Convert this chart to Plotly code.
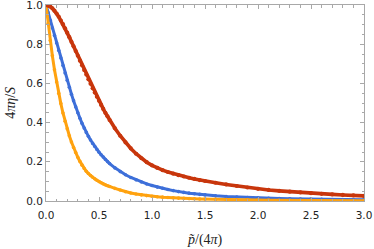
import plotly.graph_objects as go

# momentum grid p/(4pi)
p_vals = [
    0.00, 0.02, 0.04, 0.06, 0.08, 0.10, 0.12, 0.14, 0.16, 0.18,
    0.20, 0.22, 0.24, 0.26, 0.28, 0.30, 0.32, 0.34, 0.36, 0.38,
    0.40, 0.42, 0.44, 0.46, 0.48, 0.50, 0.52, 0.54, 0.56, 0.58,
    0.60, 0.65, 0.70, 0.75, 0.80, 0.85, 0.90, 0.95, 1.00, 1.05,
    1.10, 1.15, 1.20, 1.25, 1.30, 1.35, 1.40, 1.45, 1.50, 1.60,
    1.70, 1.80, 1.90, 2.00, 2.10, 2.20, 2.30, 2.40, 2.50, 2.60,
    2.70, 2.80, 2.90, 3.00,
]

blue_vals = [
    1.000, 0.961, 0.922, 0.883, 0.845, 0.806, 0.768, 0.729, 0.691, 0.653,
    0.616, 0.580, 0.545, 0.512, 0.480, 0.450, 0.422, 0.396, 0.372, 0.350,
    0.330, 0.311, 0.294, 0.278, 0.263, 0.249, 0.236, 0.224, 0.212, 0.201,
    0.191, 0.169, 0.150, 0.134, 0.120, 0.108, 0.097, 0.087, 0.079, 0.071,
    0.065, 0.059, 0.053, 0.048, 0.044, 0.040, 0.037, 0.034, 0.031, 0.0264,
    0.0230, 0.0203, 0.0178, 0.0158, 0.0141, 0.0127, 0.0114, 0.0104, 0.0095, 0.0086,
    0.0079, 0.0072, 0.0066, 0.0061,
]

orange_vals = [
    1.000, 0.905, 0.819, 0.741, 0.670, 0.607, 0.549, 0.497, 0.449, 0.407,
    0.368, 0.333, 0.301, 0.273, 0.247, 0.223, 0.202, 0.183, 0.166, 0.152,
    0.140, 0.130, 0.121, 0.113, 0.106, 0.099, 0.093, 0.0875, 0.0825, 0.078,
    0.074, 0.0645, 0.0560, 0.0475, 0.0409, 0.0356, 0.0312, 0.0276, 0.0245, 0.0219,
    0.0197, 0.0178, 0.0161, 0.0147, 0.0134, 0.0123, 0.0113, 0.0104, 0.0096, 0.0083,
    0.0072, 0.0063, 0.0056, 0.0050, 0.0044, 0.0040, 0.0036, 0.0033, 0.0030, 0.0027,
    0.0025, 0.0023, 0.0021, 0.0019,
]

red_vals = [
    1.000, 0.998, 0.992, 0.983, 0.971, 0.956, 0.940, 0.921, 0.902, 0.881,
    0.859, 0.836, 0.812, 0.789, 0.765, 0.741, 0.716, 0.692, 0.668, 0.645,
    0.621, 0.598, 0.575, 0.553, 0.532, 0.511, 0.490, 0.470, 0.450, 0.432,
    0.413, 0.371, 0.333, 0.299, 0.268, 0.241, 0.218, 0.198, 0.182, 0.1685,
    0.1575, 0.148, 0.1395, 0.132, 0.125, 0.1185, 0.1125, 0.107, 0.102, 0.093,
    0.0845, 0.0765, 0.069, 0.062, 0.0565, 0.0517, 0.0474, 0.0435, 0.0399, 0.0366,
    0.0336, 0.0308, 0.0283, 0.026,
]

x_ticks = [0.0, 0.5, 1.0, 1.5, 2.0, 2.5, 3.0]
y_ticks = [0.0, 0.2, 0.4, 0.6, 0.8, 1.0]

# name, values, colour, line width, marker size
series = [
    ("blue", blue_vals, "#3d6fd9", 3.0, 3.6),
    ("orange", orange_vals, "#ffa20f", 3.0, 3.6),
    ("red", red_vals, "#c8360c", 3.6, 4.2),
]

fig = go.Figure()

for name, vals, color, w, ms in series:
    fig.add_trace(go.Scatter(
        x=p_vals,
        y=vals,
        mode="lines+markers",
        name=name,
        line=dict(color=color, width=w),
        marker=dict(color=color, size=ms),
        showlegend=False,
    ))

axis_common = dict(
    automargin=False,
    showgrid=False,
    zeroline=False,
    showline=True,
    linecolor="#a8a8a8",
    linewidth=1,
    mirror="allticks",
    ticks="inside",
    ticklen=4,
    tickcolor="#a8a8a8",
    tickformat=".1f",
    ticklabeloverflow="allow",
    tickfont=dict(family="DejaVu Sans", size=10.5, color="#222222"),
)

fig.update_xaxes(
    range=[0, 3],
    tickvals=x_ticks,
    ticklabelstandoff=4,
    minor=dict(ticks="inside", dtick=0.1, ticklen=2.5, tickcolor="#a8a8a8"),
    **axis_common,
)
fig.update_yaxes(
    range=[0, 1],
    tickvals=y_ticks,
    minor=dict(ticks="inside", dtick=0.05, ticklen=2.5, tickcolor="#a8a8a8"),
    **axis_common,
)

fig.update_layout(
    width=374,
    height=249,
    margin=dict(l=46, r=10, t=5, b=48),
    paper_bgcolor="white",
    plot_bgcolor="white",
    annotations=[
        dict(
            text="<i>p\u0303</i>/(4<i>\u03c0</i>)",
            x=0.5, y=-0.2, xref="paper", yref="paper",
            xanchor="center", yanchor="middle",
            showarrow=False,
            font=dict(family="Liberation Serif", size=14, color="#222222"),
        ),
        dict(
            text="4<i>\u03c0\u03b7</i>/<i>S</i>",
            x=-0.114, y=0.5, xref="paper", yref="paper",
            xanchor="center", yanchor="middle",
            textangle=-90,
            showarrow=False,
            font=dict(family="Liberation Serif", size=14, color="#222222"),
        ),
    ],
)

# drop the default 8px page margin so the figure sits at the window corner
fig.write_html(
    "out.html",
    config={"displayModeBar": False},
    post_script="document.body.style.margin='0px';",
)
